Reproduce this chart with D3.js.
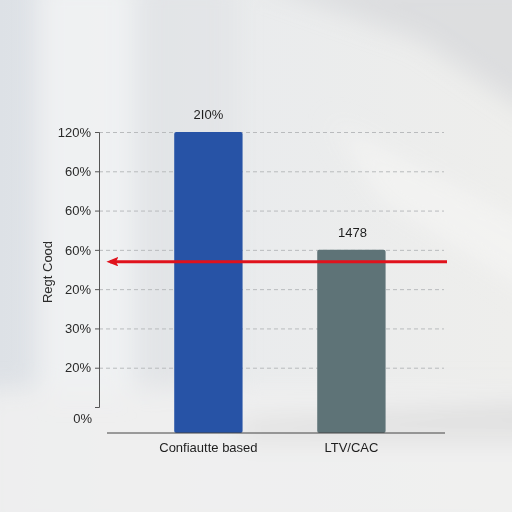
<!DOCTYPE html>
<html><head><meta charset="utf-8">
<script src="https://cdn.jsdelivr.net/npm/d3@7/dist/d3.min.js"></script>
<style>html,body{margin:0;padding:0;background:#eceded;}svg{display:block;}</style>
</head><body>
<svg id="c" width="512" height="512"></svg>
<script>
const categories = ["Confiautte based", "LTV/CAC"];
const values = [140, 80];
const valueLabels = ["2I0%", "1478"];
const barColors = ["#2753a6", "#5e7377"];
const tickValues = [140, 120, 100, 80, 60, 40, 20];
const tickLabels = ["120%", "60%", "60%", "60%", "20%", "30%", "20%"];
const zeroLabel = "0%";
const refValue = 74;
const yTitle = "Regt Cood";

const svg = d3.select("#c");
const W = 512, H = 512;
const defs = svg.append("defs");
const FONT = "Liberation Sans, Arial, sans-serif";

// background
const bg = defs.append("linearGradient").attr("id","bg").attr("x1",0).attr("y1",0).attr("x2",1).attr("y2",0);
bg.append("stop").attr("offset","0%").attr("stop-color","#dde1e6");
bg.append("stop").attr("offset","40%").attr("stop-color","#e9ebed");
bg.append("stop").attr("offset","100%").attr("stop-color","#eeeeec");
svg.append("rect").attr("width",W).attr("height",H).attr("fill","url(#bg)");
const blur = defs.append("filter").attr("id","bl").attr("x","-50%").attr("y","-50%").attr("width","200%").attr("height","200%");
blur.append("feGaussianBlur").attr("stdDeviation",12);
const g0 = svg.append("g").attr("filter","url(#bl)");
g0.append("rect").attr("x",38).attr("y",-20).attr("width",95).attr("height",420).attr("fill","#f1f2f3").attr("opacity",0.9);
g0.append("rect").attr("x",140).attr("y",-20).attr("width",95).attr("height",410).attr("fill","#e1e3e6").attr("opacity",0.8);
g0.append("polygon").attr("points","250,-20 540,-20 540,120 420,40").attr("fill","#d8dadc").attr("opacity",0.8);
g0.append("polygon").attr("points","330,120 540,230 540,300 380,200").attr("fill","#f4f4f2").attr("opacity",0.8);
g0.append("rect").attr("x",-20).attr("y",388).attr("width",560).attr("height",150).attr("fill","#f0f0f0").attr("opacity",0.9);
g0.append("polygon").attr("points","240,420 540,400 540,440 240,440").attr("fill","#dcdcdc").attr("opacity",0.7);

// scales
const y = d3.scaleLinear().domain([0, 140]).range([407, 132]);
const x = d3.scaleBand().domain(categories).range([107, 452.8]).paddingInner(0.522).paddingOuter(0.47);
const baseY = 433;

// grid
svg.append("g").attr("class","grid")
  .attr("transform","translate(99,0)")
  .call(d3.axisRight(y).tickValues(tickValues).tickSize(345).tickFormat(""))
  .call(g => g.select(".domain").remove())
  .call(g => g.selectAll("line").attr("stroke","#b9bbbd").attr("stroke-dasharray","4,3").attr("stroke-width",1));

// y axis
svg.append("g").attr("transform","translate(99,0)")
  .call(d3.axisLeft(y).tickValues(tickValues.concat([0])).tickSize(4).tickSizeOuter(4)
    .tickFormat((d) => d === 0 ? "" : tickLabels[tickValues.indexOf(d)]))
  .call(g => g.select(".domain").attr("stroke","#555"))
  .call(g => g.selectAll("line").attr("stroke","#555"))
  .call(g => g.selectAll("text").attr("font-family",FONT).attr("font-size",13).attr("fill","#2a2a2a").attr("x",-8));
svg.append("text").attr("x",92).attr("y",y(0)+12).attr("dy","0.32em").attr("text-anchor","end")
  .attr("font-family",FONT).attr("font-size",13).attr("fill","#2a2a2a").text(zeroLabel);

// y title
svg.append("text").attr("transform",`translate(52,${272}) rotate(-90)`).attr("text-anchor","middle")
  .attr("font-family",FONT).attr("font-size",13).attr("fill","#2a2a2a").text(yTitle);

// bars
svg.selectAll("rect.bar").data(values).join("rect").attr("class","bar")
  .attr("x",(d,i)=>x(categories[i])).attr("width",x.bandwidth())
  .attr("y",d=>y(d)).attr("height",d=>baseY-y(d)).attr("rx",2)
  .attr("fill",(d,i)=>barColors[i]);

// value labels
svg.selectAll("text.vl").data(values).join("text").attr("class","vl")
  .attr("x",(d,i)=>x(categories[i])+x.bandwidth()/2 + (i===1?1:0)).attr("y",d=>y(d)-13)
  .attr("text-anchor","middle").attr("font-family",FONT).attr("font-size",13).attr("fill","#1e1e1e")
  .text((d,i)=>valueLabels[i]);

// x axis baseline
svg.append("g").attr("transform",`translate(0,${baseY})`)
  .call(d3.axisBottom(x).tickSize(0).tickPadding(10))
  .call(g => g.select(".domain").attr("stroke","#444").attr("d","M107,0H445"))
  .call(g => g.selectAll("text").attr("font-family",FONT).attr("font-size",13).attr("fill","#1e1e1e"));

// reference arrow
defs.append("marker").attr("id","ah").attr("viewBox","0 0 10 10").attr("refX",3).attr("refY",5)
  .attr("markerWidth",4).attr("markerHeight",3.2).attr("orient","auto").attr("preserveAspectRatio","none")
  .append("path").attr("d","M0,5L10,0L8,5L10,10Z").attr("fill","#e0121c");
svg.append("line").attr("x1",110).attr("x2",447).attr("y1",y(refValue)).attr("y2",y(refValue))
  .attr("stroke","#e0121c").attr("stroke-width",3).attr("marker-start","url(#ah)");
</script>
</body></html>
